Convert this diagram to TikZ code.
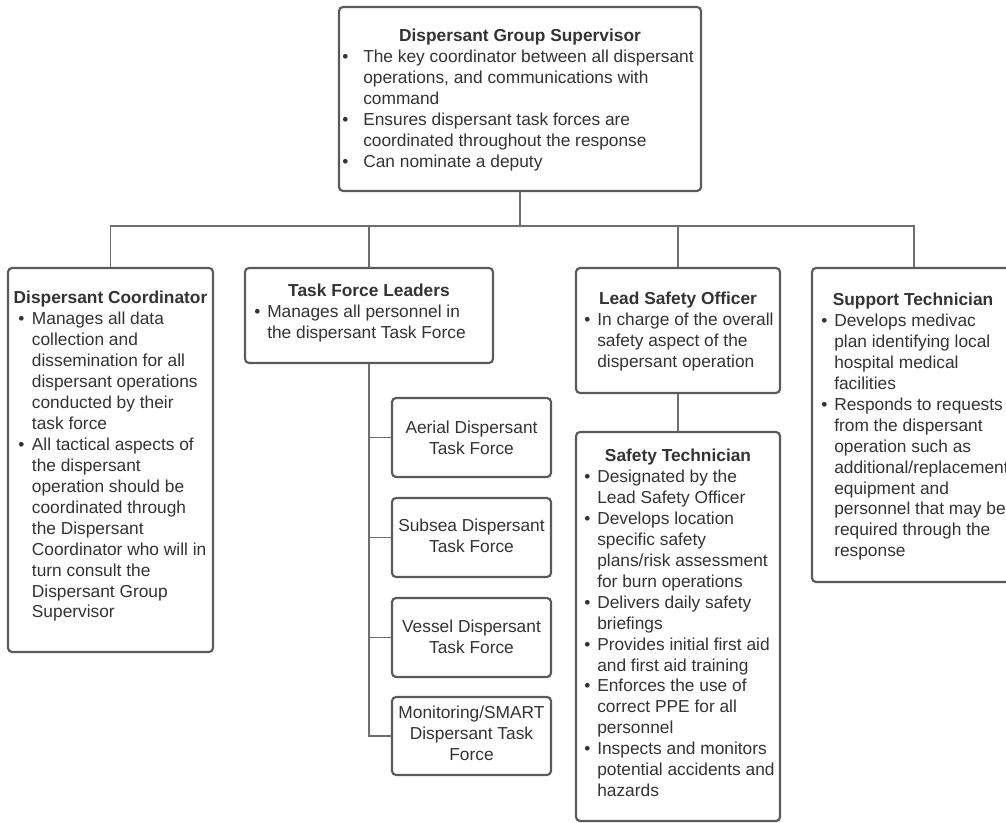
\documentclass[tikz,border=0pt]{standalone}
\usepackage{fontspec}
\setmainfont{Liberation Sans}
\usetikzlibrary{fit}

\definecolor{txtc}{HTML}{333333}
\definecolor{edgec}{HTML}{5A5A5A}
\definecolor{linkc}{HTML}{6E6E6E}

\tikzset{
  box/.style={inner sep=0pt, draw=edgec, line width=1.6pt, rounded corners=3pt, fill=white},
  connector/.style={draw=linkc, line width=1.1pt},
  txt/.style={inner sep=0pt, text=txtc, font=\fontsize{13}{15.7}\selectfont},
  ttl/.style={inner sep=0pt, text=txtc, anchor=base, font=\fontsize{13}{15.7}\selectfont\bfseries},
  blist/.style={txt, anchor=base west},
  ctext/.style={txt, anchor=base},
}

\begin{document}
\begin{tikzpicture}[x=0.75pt, y=-0.75pt]
\useasboundingbox (0,0) rectangle (1006,823);

% boxes
\node[box, fit={(339,7) (701,191)}] (sup) {};
\node[box, fit={(8,268) (213,652)}] (dc) {};
\node[box, fit={(245,268) (493,363)}] (tfl) {};
\node[box, fit={(576,268) (780,393)}] (lso) {};
\node[box, fit={(576,432) (780,821)}] (st) {};
\node[box, fit={(812,268) (1016,582)}] (sp) {};
\node[box, fit={(392,398) (551,477)}] (aer) {};
\node[box, fit={(392,498) (551,577)}] (sub) {};
\node[box, fit={(392,598) (551,677)}] (ves) {};
\node[box, fit={(392,697) (551,775)}] (mon) {};

% connectors
\coordinate (bus) at (520,226);
\draw[connector] (sup.south) -- (bus);
\draw[connector] (dc.north) |- (bus) -| (sp.north);
\draw[connector] (tfl.north) -- (tfl.north |- bus);
\draw[connector] (lso.north) -- (lso.north |- bus);
\draw[connector] (lso.south) -- (st.north);
\draw[connector] (tfl.south) |- (mon.west);
\draw[connector] (aer.west) -- (aer.west -| tfl.south);
\draw[connector] (sub.west) -- (sub.west -| tfl.south);
\draw[connector] (ves.west) -- (ves.west -| tfl.south);

% Dispersant Group Supervisor
\node[ttl] (sup-t) at (520,42) {Dispersant Group Supervisor};
\node[blist] (sup-b) at (342,62.9) {\begin{tabular}[t]{@{}p{15.75pt}@{}l@{}}
•&The key coordinator between all dispersant\\
&operations, and communications with\\
&command\\
•&Ensures dispersant task forces are\\
&coordinated throughout the response\\
•&Can nominate a deputy
\end{tabular}};

% Dispersant Coordinator
\node[ttl] (dc-t) at (110.5,304) {Dispersant Coordinator};
\node[blist] (dc-b) at (18,324.9) {\begin{tabular}[t]{@{}p{10.25pt}@{}l@{}}
•&Manages all data\\
&collection and\\
&dissemination for all\\
&dispersant operations\\
&conducted by their\\
&task force\\
•&All tactical aspects of\\
&the dispersant\\
&operation should be\\
&coordinated through\\
&the Dispersant\\
&Coordinator who will in\\
&turn consult the\\
&Dispersant Group\\
&Supervisor
\end{tabular}};

% Task Force Leaders
\node[ttl] (tfl-t) at (369,296.7) {Task Force Leaders};
\node[blist] (tfl-b) at (254,317.6) {\begin{tabular}[t]{@{}p{9.75pt}@{}l@{}}
•&Manages all personnel in\\
&the dispersant Task Force
\end{tabular}};

% Lead Safety Officer
\node[ttl] (lso-t) at (678,304.3) {Lead Safety Officer};
\node[blist] (lso-b) at (584,325.2) {\begin{tabular}[t]{@{}p{9.75pt}@{}l@{}}
•&In charge of the overall\\
&safety aspect of the\\
&dispersant operation
\end{tabular}};

% Safety Technician
\node[ttl] (st-t) at (678,461.7) {Safety Technician};
\node[blist] (st-b) at (584,482.6) {\begin{tabular}[t]{@{}p{9.75pt}@{}l@{}}
•&Designated by the\\
&Lead Safety Officer\\
•&Develops location\\
&specific safety\\
&plans/risk assessment\\
&for burn operations\\
•&Delivers daily safety\\
&briefings\\
•&Provides initial first aid\\
&and first aid training\\
•&Enforces the use of\\
&correct PPE for all\\
&personnel\\
•&Inspects and monitors\\
&potential accidents and\\
&hazards
\end{tabular}};

% Support Technician
\node[ttl] (sp-t) at (913,305.7) {Support Technician};
\node[blist] (sp-b) at (821,326.6) {\begin{tabular}[t]{@{}p{9.75pt}@{}l@{}}
•&Develops medivac\\
&plan identifying local\\
&hospital medical\\
&facilities\\
•&Responds to requests\\
&from the dispersant\\
&operation such as\\
&additional/replacement\\
&equipment and\\
&personnel that may be\\
&required through the\\
&response
\end{tabular}};

% task force units
\node[ctext] (aer-t) at (471.5,433.3) {\begin{tabular}[t]{@{}c@{}}Aerial Dispersant\\Task Force\end{tabular}};
\node[ctext] (sub-t) at (471.5,531.7) {\begin{tabular}[t]{@{}c@{}}Subsea Dispersant\\Task Force\end{tabular}};
\node[ctext] (ves-t) at (471.5,632.3) {\begin{tabular}[t]{@{}c@{}}Vessel Dispersant\\Task Force\end{tabular}};
\node[ctext] (mon-t) at (471.5,718.3) {\begin{tabular}[t]{@{}c@{}}Monitoring/SMART\\Dispersant Task\\Force\end{tabular}};

\end{tikzpicture}
\end{document}
